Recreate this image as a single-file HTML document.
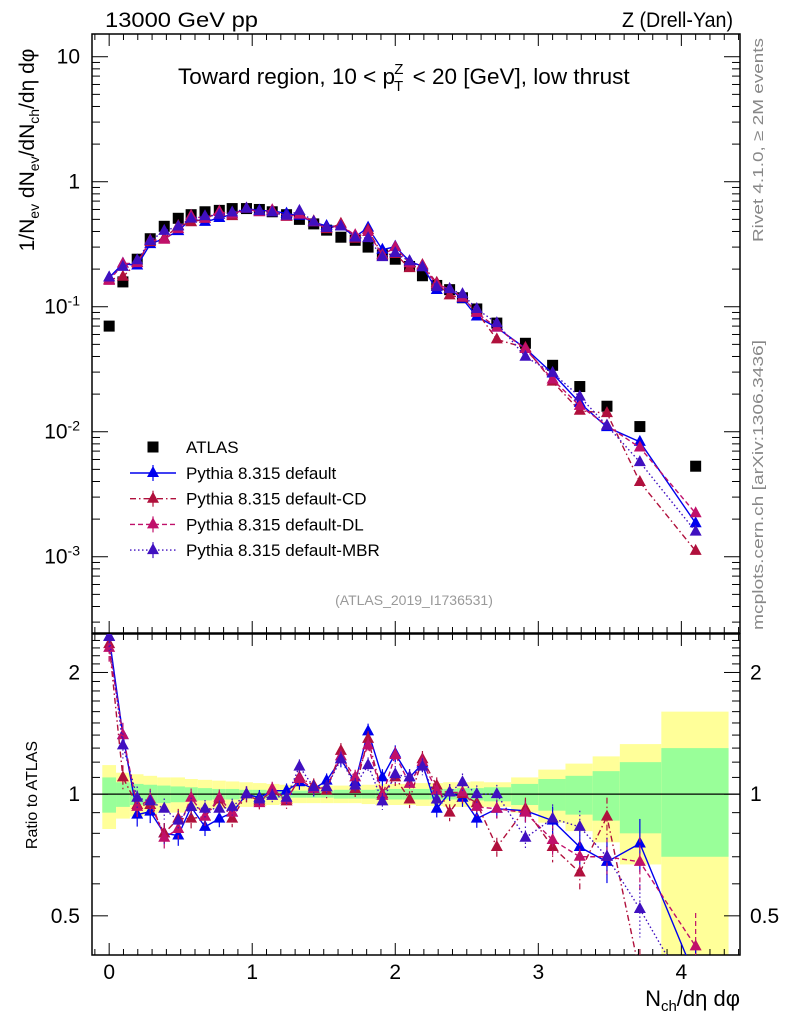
<!DOCTYPE html>
<html><head><meta charset="utf-8">
<style>
html,body{margin:0;padding:0;background:#fff;overflow:hidden;width:786px;height:1024px;}
svg{display:block;font-family:"Liberation Sans",sans-serif;}
</style></head>
<body>
<svg id="chart" width="786" height="1024" viewBox="0 0 786 1024" xmlns="http://www.w3.org/2000/svg">
<g id="bands"></g>
<g id="axes"></g>
<g id="series"></g>
<text x="105" y="27" font-size="21" textLength="153" lengthAdjust="spacingAndGlyphs">13000 GeV pp</text>
<text x="622" y="27" font-size="21" textLength="111" lengthAdjust="spacingAndGlyphs">Z (Drell-Yan)</text>
<text x="178" y="84" font-size="22.5">Toward region, 10 &lt; p<tspan font-size="15" dx="-1" dy="7">T</tspan><tspan font-size="15" dx="-9" dy="-17">Z</tspan><tspan dy="10" dx="3"> &lt; 20 [GeV], low thrust</tspan></text>
<text transform="translate(34,150) rotate(-90)" font-size="21" text-anchor="middle">1/N<tspan font-size="14" dy="5">ev</tspan><tspan dy="-5"> dN</tspan><tspan font-size="14" dy="5">ev</tspan><tspan dy="-5">/dN</tspan><tspan font-size="14" dy="5">ch</tspan><tspan dy="-5">/dη dφ</tspan></text>
<text transform="translate(763,140) rotate(-90)" font-size="15" fill="#888" text-anchor="middle" textLength="204" lengthAdjust="spacingAndGlyphs">Rivet 4.1.0, ≥ 2M events</text>
<text transform="translate(763,485) rotate(-90)" font-size="15" fill="#888" text-anchor="middle" textLength="290" lengthAdjust="spacingAndGlyphs">mcplots.cern.ch [arXiv:1306.3436]</text>
<text x="414" y="605" font-size="14" fill="#999" text-anchor="middle">(ATLAS_2019_I1736531)</text>
<text transform="translate(37,795) rotate(-90)" font-size="16" text-anchor="middle">Ratio to ATLAS</text>
<text x="740" y="1006" font-size="22" text-anchor="end">N<tspan font-size="15" dy="5">ch</tspan><tspan dy="-5">/dη dφ</tspan></text>
<g id="legend"></g>
</svg>
<script>
const xs=[0,0.096,0.196,0.287,0.385,0.483,0.573,0.67,0.77,0.86,0.96,1.05,1.14,1.24,1.33,1.43,1.52,1.62,1.72,1.81,1.91,2.0,2.10,2.19,2.29,2.38,2.47,2.57,2.71,2.91,3.10,3.29,3.48,3.71,4.10];
const binEdges=[-0.048,0.048,0.145,0.24,0.335,0.43,0.53,0.62,0.72,0.815,0.91,1.005,1.10,1.19,1.285,1.38,1.475,1.57,1.67,1.765,1.86,1.955,2.05,2.145,2.24,2.335,2.43,2.525,2.62,2.81,3.0,3.19,3.38,3.57,3.86,4.33];
const atlas=[0.070,0.158,0.24,0.35,0.44,0.51,0.545,0.575,0.59,0.61,0.61,0.60,0.575,0.545,0.50,0.46,0.41,0.36,0.34,0.30,0.26,0.24,0.21,0.177,0.148,0.137,0.118,0.096,0.074,0.051,0.034,0.023,0.016,0.011,0.0053];
const errGreen=[0.10,0.07,0.06,0.055,0.05,0.045,0.04,0.035,0.03,0.03,0.025,0.025,0.02,0.02,0.02,0.02,0.02,0.025,0.025,0.025,0.03,0.03,0.03,0.03,0.03,0.03,0.035,0.035,0.04,0.06,0.09,0.11,0.14,0.20,0.30];
const errYellow=[0.18,0.13,0.12,0.11,0.10,0.10,0.09,0.085,0.08,0.075,0.07,0.065,0.06,0.055,0.05,0.05,0.05,0.05,0.05,0.055,0.06,0.06,0.06,0.065,0.065,0.07,0.07,0.075,0.07,0.10,0.15,0.19,0.24,0.33,0.60];
const ratioDefault=[2.45,1.40,0.89,0.905,0.80,0.79,0.93,0.83,0.87,0.90,1.0,0.98,1.02,1.02,1.07,1.03,1.08,1.22,1.07,1.43,1.10,1.26,1.10,1.19,0.92,1.01,0.98,0.87,0.92,0.91,0.86,0.74,0.68,0.755,0.35];
const ratioCD=[2.35,1.10,0.94,0.94,0.80,0.87,0.87,0.88,0.97,0.87,1.0,0.96,1.02,0.96,1.10,1.05,1.02,1.28,1.03,1.37,1.0,1.10,0.97,1.22,1.05,0.90,1.0,0.95,0.74,0.92,0.74,0.64,0.88,0.36,0.21];
const ratioDL=[2.3,1.40,0.93,0.97,0.78,0.82,0.98,0.88,0.98,0.90,1.0,0.95,1.03,0.97,1.09,1.03,1.04,1.24,1.10,1.32,0.99,1.25,1.06,1.20,1.02,1.01,1.01,0.93,0.92,0.90,0.77,0.70,0.70,0.68,0.42];
const ratioMBR=[2.45,1.32,0.98,0.96,0.92,0.86,0.93,0.92,0.92,0.93,1.0,0.97,0.99,0.98,1.17,1.04,1.04,1.22,1.05,1.18,0.96,1.12,1.10,1.17,0.97,1.01,1.07,1.0,1.0,0.78,0.87,0.83,0.70,0.52,0.30];
const xTicks=[0,1,2,3,4];
const yTicksMain=[10,1,0.1,0.01,0.001];
const yTickLabelsMain=["10","1","10^-1","10^-2","10^-3"];
const ratioTicks=[2,1,0.5];
const ratioTickLabels=["2","1","0.5"];

const NS="http://www.w3.org/2000/svg";
const L=92,R=740,T1=34,B1=633,T2=634,B2=955;
const xMin=-0.12,xMax=4.41;
const X=v=>L+(v-xMin)/(xMax-xMin)*(R-L);
const yMainTop=Math.log10(15.2),yMainBot=-3.61;
const Ym=v=>T1+(yMainTop-Math.log10(v))/(yMainTop-yMainBot)*(B1-T1);
const rTop=Math.log2(2.49),rBot=Math.log2(0.40);
const Yr=v=>T2+(rTop-Math.log2(Math.max(v,0.05)))/(rTop-rBot)*(B2-T2);
function mk(tag,attrs,parent){const e=document.createElementNS(NS,tag);for(const k in attrs)e.setAttribute(k,attrs[k]);parent.appendChild(e);return e;}
const svg=document.getElementById('chart');
const axes=document.getElementById('axes'),bands=document.getElementById('bands'),series=document.getElementById('series'),legend=document.getElementById('legend');

const defs=mk('defs',{},svg);
const c1=mk('clipPath',{id:'c1'},defs);mk('rect',{x:L,y:T1,width:R-L,height:B1-T1},c1);
const c2=mk('clipPath',{id:'c2'},defs);mk('rect',{x:L,y:T2,width:R-L,height:B2-T2},c2);
bands.setAttribute('clip-path','url(#c2)');

for(let i=0;i<xs.length;i++){
  const x0=X(binEdges[i]),x1=X(binEdges[i+1]);
  const ry=mk('rect',{x:x0,y:Yr(1+errYellow[i]),width:x1-x0,height:Yr(1-errYellow[i])-Yr(1+errYellow[i]),fill:'#ffff99'},bands);
  
  
  const rg=mk('rect',{x:x0,y:Yr(1+errGreen[i]),width:x1-x0,height:Yr(1-errGreen[i])-Yr(1+errGreen[i]),fill:'#99ff99'},bands);
  
  
}
const one=mk('line',{x1:L,x2:R,y1:Yr(1),y2:Yr(1),stroke:'#000','stroke-width':1.3},axes);



for(const [t,b,n] of [[T1,B1,'main-frame'],[T2,B2,'ratio-frame']]){
  const f=mk('rect',{x:L,y:t,width:R-L,height:b-t,fill:'none',stroke:'#000','stroke-width':1.5},axes);
  
  
}
for(let v=-0.1;v<=4.41;v+=0.1){
  const vv=Math.round(v*10)/10;const major=Math.abs(vv-Math.round(vv))<1e-6;
  const len=major?12:6;const x=X(vv);
  for(const [t,b] of [[T1,B1],[T2,B2]]){
    mk('line',{x1:x,x2:x,y1:b,y2:b-len,stroke:'#000'},axes);
    mk('line',{x1:x,x2:x,y1:t,y2:t+len,stroke:'#000'},axes);
  }
}
xTicks.forEach(v=>{const t=mk('text',{x:X(v),y:979,'font-size':21,'text-anchor':'middle'},axes);t.textContent=v;
  
  });
for(let e=-4;e<=1;e++){for(let m=1;m<10;m++){const v=m*Math.pow(10,e);const y=Ym(v);if(y<T1||y>B1)continue;const len=m===1?16:8;
  mk('line',{x1:L,x2:L+len,y1:y,y2:y,stroke:'#000'},axes);mk('line',{x1:R,x2:R-len,y1:y,y2:y,stroke:'#000'},axes);}}
yTicksMain.forEach((v,i)=>{const lab=yTickLabelsMain[i];const t=mk('text',{x:80,y:Ym(v)+7,'font-size':21,'text-anchor':'end'},axes);
  if(lab.includes('^')){const p=lab.split('^');t.textContent=p[0];const s=mk('tspan',{'font-size':14,dy:-8},t);s.textContent=p[1];}else t.textContent=lab;
  
  });
for(let v=0.4;v<=2.5;v+=0.1){const vv=Math.round(v*10)/10;const y=Yr(vv);if(y<T2||y>B2)continue;const major=[0.5,1,2].includes(vv);const len=major?16:8;
  mk('line',{x1:L,x2:L+len,y1:y,y2:y,stroke:'#000'},axes);mk('line',{x1:R,x2:R-len,y1:y,y2:y,stroke:'#000'},axes);}
ratioTicks.forEach((v,i)=>{
  const t=mk('text',{x:80,y:Yr(v)+7,'font-size':21,'text-anchor':'end'},axes);t.textContent=ratioTickLabels[i];
  
  
  const t2=mk('text',{x:750,y:Yr(v)+7,'font-size':21},axes);t2.textContent=ratioTickLabels[i];
  
  
});

const defsSeries=[
 {name:'default',r:ratioDefault,color:'#0000ee',dash:'',label:'Pythia 8.315 default'},
 {name:'default-cd',r:ratioCD,color:'#b0103c',dash:'6,3,1.5,3',label:'Pythia 8.315 default-CD'},
 {name:'default-dl',r:ratioDL,color:'#c0106a',dash:'5,3',label:'Pythia 8.315 default-DL'},
 {name:'default-mbr',r:ratioMBR,color:'#4010c0',dash:'1.5,2.5',label:'Pythia 8.315 default-MBR'}
];
function tri(cx,cy,c,g){return mk('polygon',{points:`${cx},${cy-7} ${cx-6},${cy+4} ${cx+6},${cy+4}`,fill:c},g);}
const gA=mk('g',{'clip-path':'url(#c1)'},series);


xs.forEach((x,i)=>{const s=mk('rect',{x:X(x)-5.5,y:Ym(atlas[i])-5.5,width:11,height:11,fill:'#000'},gA);
  
  });
defsSeries.forEach(s=>{
  const gm=mk('g',{'clip-path':'url(#c1)'},series);
  
  
  const pm=xs.map((x,i)=>X(x)+','+Ym(atlas[i]*s.r[i])).join(' ');
  mk('polyline',{points:pm,fill:'none',stroke:s.color,'stroke-width':1.4,'stroke-dasharray':s.dash},gm);
  xs.forEach((x,i)=>{const p=tri(X(x),Ym(atlas[i]*s.r[i]),s.color,gm);
    
    });
  const gr=mk('g',{'clip-path':'url(#c2)'},series);
  
  
  const pr=xs.map((x,i)=>X(x)+','+Yr(s.r[i])).join(' ');
  mk('polyline',{points:pr,fill:'none',stroke:s.color,'stroke-width':1.4,'stroke-dasharray':s.dash},gr);
  xs.forEach((x,i)=>{const e=0.03+errGreen[i]*0.6;const cx=X(x);
    mk('line',{x1:cx,x2:cx,y1:Yr(s.r[i]*(1+e)),y2:Yr(s.r[i]*(1-e)),stroke:s.color,'stroke-width':1.2,'stroke-dasharray':s.dash},gr);
    const p=tri(cx,Yr(s.r[i]),s.color,gr);
    
    });
});
const lx=153;
const e0=mk('g',{},legend);


mk('rect',{x:lx-5.5,y:441.5,width:11,height:11,fill:'#000'},e0);
const t0=mk('text',{x:186,y:453,'font-size':17},e0);t0.textContent='ATLAS';
defsSeries.forEach((s,i)=>{const y=473+i*25.7;
  const g=mk('g',{},legend);
  
  
  mk('line',{x1:130,x2:176,y1:y,y2:y,stroke:s.color,'stroke-width':1.4,'stroke-dasharray':s.dash},g);
  mk('line',{x1:lx,x2:lx,y1:y-8,y2:y+8,stroke:s.color,'stroke-width':1.2},g);
  tri(lx,y,s.color,g);
  const t=mk('text',{x:186,y:y+6,'font-size':17},g);t.textContent=s.label;});
</script>
</body></html>
